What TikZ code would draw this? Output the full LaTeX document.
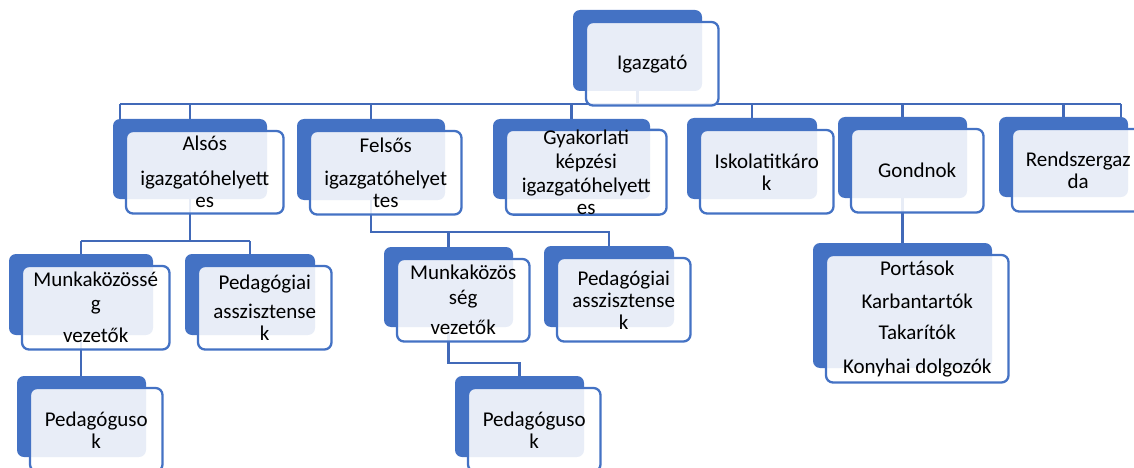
\documentclass[tikz,border=0pt]{standalone}
\usepackage{fontspec}
\setmainfont{Carlito}
\usetikzlibrary{calc}
\definecolor{sablue}{HTML}{4472C4}
\definecolor{lineblue}{HTML}{4169B8}
\pgfdeclarelayer{bg}
\pgfsetlayers{bg,main}
\tikzset{
  backbox/.style={fill=sablue, draw=none, rounded corners=7pt, inner sep=0pt},
  frontbox/.style={draw=sablue, line width=2.3pt, fill=white, fill opacity=0.88, text opacity=1,
    rounded corners=7pt, inner sep=0pt, align=center, text=black,
    font=\fontsize{21}{22}\selectfont},
  conn/.style={draw=lineblue, line width=2.3pt}
}
\newcommand\orgbox[6]{%
  \pgfmathsetmacro\obw{#4-#2}\pgfmathsetmacro\obh{#5-#3}%
  \pgfmathsetmacro\obx{(#2+#4)/2}\pgfmathsetmacro\oby{(#3+#5)/2}%
  \pgfmathsetmacro\ofw{\obw+3.5}\pgfmathsetmacro\ofh{\obh+2.5}%
  \pgfmathsetmacro\ofx{\obx+14.75}\pgfmathsetmacro\ofy{\oby+13.25}%
  \node[backbox, minimum width=\obw pt, minimum height=\obh pt] (#1-b) at (\obx,\oby) {};%
  \node[frontbox, minimum width=\ofw pt, minimum height=\ofh pt] (#1) at (\ofx,\ofy) {#6};%
}
\begin{document}
\begin{tikzpicture}[x=1pt,y=-1pt]
\useasboundingbox (0,0) rectangle (1134,468);
% boxes
\orgbox{igaz}{573}{10}{702}{91}{\raisebox{-4pt}{Igazgató}}
\orgbox{alsos}{113}{119}{267}{199}{Alsós\\[13pt]igazgatóhelyett\\es}
\orgbox{felsos}{297}{119}{445}{200}{Felsős\\[11pt]igazgatóhelyet\\tes}
\orgbox{gyak}{493}{119}{650}{199}{Gyakorlati\\[2pt]képzési\\[2pt]igazgatóhelyett\\es}
\orgbox{isk}{687}{118}{817}{199}{Iskolatitkáro\\k}
\orgbox{gond}{838}{117}{967}{198}{Gondnok}
\orgbox{rend}{999}{117}{1128}{197}{Rendszergaz\\da}
\orgbox{munka}{9}{254}{153}{335}{Munkaközössé\\[2pt]g\\[10pt]vezetők}
\orgbox{peda}{185}{254}{315}{335}{Pedagógiai\\[7pt]asszisztense\\k}
\orgbox{munkf}{384}{247}{513}{327}{Munkaközös\\[3pt]ség\\[8pt]vezetők}
\orgbox{pedf}{544}{246}{674}{327}{Pedagógiai\\asszisztense\\k}
\orgbox{pga}{17}{376}{146}{457}{Pedagóguso\\k}
\orgbox{pgf}{455}{376}{584}{457}{Pedagóguso\\k}
\orgbox{port}{813}{243}{992}{368}{Portások\\[11pt]Karbantartók\\[9pt]Takarítók\\[12pt]Konyhai dolgozók}
% bus coordinates
\coordinate (bustop) at (0,104);
\coordinate (busa) at (0,241);
\coordinate (busf) at (0,232);
\coordinate (busm) at (0,363);
\begin{pgfonlayer}{bg}
% top level
\draw[conn] (igaz-b.center) -- (igaz-b.center |- bustop);
\draw[conn] ($(alsos-b.north west |- bustop)+(7,0)$) -- ($(rend-b.north east |- bustop)+(-7,0)$);
\draw[conn] ($(alsos-b.north west |- bustop)+(7,0)$) -- ($(alsos-b.north west)+(7,0)$);
\draw[conn] ($(rend-b.north east |- bustop)+(-7,0)$) -- ($(rend-b.north east)+(-7,0)$);
\foreach \c in {alsos,felsos,gyak,isk,gond,rend}
  \draw[conn] (\c-b.north |- bustop) -- (\c-b.north);
% Alsós children
\draw[conn] (alsos-b.center) -- (alsos-b.center |- busa);
\draw[conn] (munka-b.north |- busa) -- (peda-b.north |- busa);
\draw[conn] (munka-b.north |- busa) -- (munka-b.north);
\draw[conn] (peda-b.north |- busa) -- (peda-b.north);
% Felsős children
\draw[conn] (felsos-b.center) -- (felsos-b.center |- busf) -- (pedf-b.north |- busf) -- (pedf-b.north);
\draw[conn] (munkf-b.north |- busf) -- (munkf-b.north);
% Munkaközösség -> Pedagógusok
\draw[conn] (munka-b.center) -- (munka-b.center |- pga-b.north);
\draw[conn] (munkf-b.center) -- (munkf-b.center |- busm) -- (pgf-b.north |- busm) -- (pgf-b.north);
% Gondnok -> Portások
\draw[conn] (gond-b.center) -- (gond-b.center |- port-b.north);
\end{pgfonlayer}
\end{tikzpicture}
\end{document}
